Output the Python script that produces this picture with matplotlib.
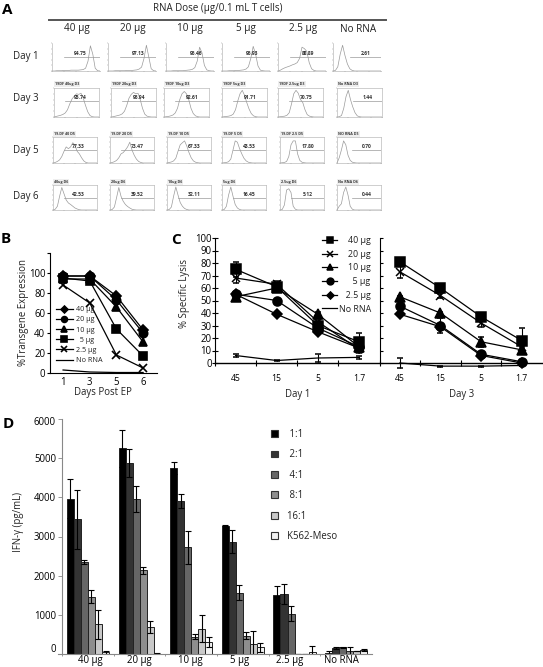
#!/usr/bin/env python3

import numpy as np
import matplotlib
matplotlib.use("Agg")
import matplotlib.pyplot as plt
from matplotlib.patches import Patch
from matplotlib.transforms import ScaledTranslation

plt.rcParams['font.family'] = ['Open Sans', 'DejaVu Sans']
plt.rcParams['text.color'] = '#222222'

W, H = 543, 667
FS = 6.9

doses = ['40 µg', '20 µg', '10 µg', '5 µg', '2.5 µg', 'No RNA']
days_a = ['Day 1', 'Day 3', 'Day 5', 'Day 6']

##### panel A, histograms (height at every 5% of the axis width)
hist_d1 = [
    [0,0,1,1,1,2,2,2,3,3,3,3,4,5,10,35,90,60,10,1,0],
    [0,0,0,1,1,1,1,1,2,2,2,3,4,7,14,45,92,50,8,1,0],
    [0,0,0,1,1,1,1,1,2,3,4,6,12,35,85,65,20,4,1,0,0],
    [0,0,0,1,1,1,2,2,3,4,7,15,45,88,60,18,3,1,0,0,0],
    [0,3,8,12,15,18,22,25,30,45,85,80,70,30,8,2,0,0,0,0,0],
    [0,2,15,60,92,55,25,8,2,0,0,0,0,0,0,0,0,0,0,0,0],
]
hist_d3 = [
    [0,2,4,6,9,14,25,45,62,72,80,78,82,65,40,18,5,1,0,0,0],
    [0,1,3,5,7,11,20,40,65,78,85,80,82,60,30,10,3,1,0,0,0],
    [0,1,2,4,7,14,30,60,80,88,80,60,30,12,4,1,0,0,0,0,0],
    [0,1,2,3,5,10,25,55,80,92,75,50,28,12,4,1,0,0,0,0,0],
    [0,1,2,3,6,15,45,80,92,82,60,50,25,8,3,1,0,0,0,0,0],
    [0,1,5,30,70,92,60,35,15,4,1,0,0,0,0,0,0,0,0,0,0],
]
hist_d5 = [
    [0,2,6,12,25,45,62,55,62,78,68,45,35,20,8,2,0,0,0,0,0],
    [0,2,5,10,20,35,40,50,62,80,50,30,15,6,2,0,0,0,0,0,0],
    [0,2,4,8,18,45,70,78,85,65,40,20,8,3,1,0,0,0,0,0,0],
    [0,1,2,5,15,50,85,80,55,35,18,8,3,1,0,0,0,0,0,0,0],
    [0,1,2,6,25,70,85,85,35,10,3,1,0,0,0,0,0,0,0,0,0],
    [0,20,50,85,70,30,10,3,1,0,0,0,0,0,0,0,0,0,0,0,0],
]
hist_d6 = [
    [0,3,15,55,90,65,40,28,22,15,8,4,1,0,0,0,0,0,0,0,0],
    [0,2,12,50,90,55,35,22,14,8,3,1,0,0,0,0,0,0,0,0,0],
    [0,2,12,55,92,60,30,15,6,2,0,0,0,0,0,0,0,0,0,0,0],
    [0,2,15,60,92,55,22,8,2,0,0,0,0,0,0,0,0,0,0,0,0],
    [0,2,20,80,85,70,15,3,0,0,0,0,0,0,0,0,0,0,0,0,0],
    [0,15,25,70,92,60,15,3,0,0,0,0,0,0,0,0,0,0,0,0,0],
]
gate_d1 = ['94.75', '97.13', '96.46', '96.93', '88.89', '2.61']
gate_d3 = ['95.74', '96.94', '92.61', '91.71', '70.75', '1.44']
gate_d5 = ['77.33', '73.47', '67.33', '43.53', '17.80', '0.70']
gate_d6 = ['42.53', '39.52', '32.11', '16.45', '5.12', '0.44']
title_d3 = ['19DF 40ug D3', '19DF 20ug D3', '19DF 10ug D3', '19DF 5ug D3', '19DF 2.5ug D3', 'No RNA D3']
title_d5 = ['19.DF 40 D5', '19.DF 20 D5', '19.DF 10 D5', '19.DF 5 D5', '19.DF 2.5 D5', 'NO RNA D5']
title_d6 = ['40ug D6', '20ug D6', '10ug D6', '5ug D6', '2.5ug D6', 'No RNA D6']

##### panel B
days_b = ['1', '3', '5', '6']
b_40 = [97, 97, 77, 43]
b_20 = [97, 97, 73, 40]
b_10 = [94, 94, 66, 31]
b_5 = [95, 92, 44, 17]
b_25 = [88, 70, 18, 5]
b_none = [3, 1, 0.5, 0.5]

##### panel C
ratios_c = ['45', '15', '5', '1.7']
c1_40 = [75, 61, 30, 17]
c1_20 = [68, 63, 33, 11]
c1_10 = [53, 60, 39, 13]
c1_5 = [55, 50, 28, 13]
c1_25 = [55, 39, 25, 12]
c1_none = [6, 2, 4, 4.5]
c1_40_err = [6, 2, 2, 7]
c1_20_err = [4, 3, 2, 3]
c1_10_err = [1, 2, 2, 2]
c1_5_err = [2, 1, 2, 2]
c1_25_err = [1, 1, 1, 1]
c1_none_err = [1.5, 0.5, 3, 1]
c3_40 = [81, 60, 37, 18]
c3_20 = [73, 54, 32, 13]
c3_10 = [53, 40, 17, 10.5]
c3_5 = [45.5, 30, 7, 1]
c3_25 = [39, 29, 6, 0]
c3_none = [0, -2.5, -2.5, -2]
c3_40_err = [2, 2, 2, 10]
c3_20_err = [5, 2, 3, 2]
c3_10_err = [1, 1, 4, 2]
c3_5_err = [1, 6, 2, 1]
c3_25_err = [1, 2, 1, 1]
c3_none_err = [4, 0.5, 0.5, 0.5]

##### panel D
ratio_labels = ['   1:1', '   2:1', '   4:1', '   8:1', '  16:1', '  K562-Meso']
d_groups = doses
d_label_pos = [0.04, 1.0, 1.99, 2.94, 3.91, 4.91]
d_11 = [3960, 5250, 4750, 3280, 1510, 20]
d_21 = [3440, 4880, 3910, 2870, 1540, 150]
d_41 = [2340, 3960, 2720, 1570, 1030, 170]
d_81 = [1460, 2140, 440, 470, 0, 85]
d_161 = [760, 690, 650, 255, 0, 70]
d_k562 = [40, 10, 310, 170, 60, 100]
d_11_err = [500, 470, 150, 10, 220, 50]
d_21_err = [750, 360, 170, 290, 260, 20]
d_41_err = [50, 330, 420, 180, 190, 20]
d_81_err = [170, 90, 60, 90, 0, 100]
d_161_err = [370, 160, 350, 325, 0, 0]
d_k562_err = [40, 10, 120, 110, 150, 15]
d_colors = ['#000000', '#333333', '#666666', '#8e8e8e', '#c9c9c9', '#f2f2f2']

fig = plt.figure(figsize=(W/100, H/100), dpi=100)


def ax_px(l, t, r, b):
    return fig.add_axes([l/W, 1-b/H, (r-l)/W, (b-t)/H])


def txt(x, y, s, **kw):
    kw.setdefault('fontsize', FS)
    kw.setdefault('ha', 'center')
    kw.setdefault('va', 'center')
    return fig.text(x/W, 1-y/H, s, **kw)


for letter, x, y in [('A', 7, 10), ('B', 6, 239), ('C', 176, 240), ('D', 8, 424)]:
    txt(x, y, letter, fontsize=11, fontweight='bold', color='black')

##### A
txt(218, 8, 'RNA Dose (µg/0.1 mL T cells)', fontsize=7)
fig.add_artist(plt.Line2D([49/W, 386/W], [1-20/H, 1-20/H], color='#555555', lw=1.4))
for x, d in zip([77, 133, 190, 246, 303, 358], doses):
    txt(x, 29, d, fontsize=7.2)
for y, d in zip([57, 99, 151, 197], days_a):
    txt(26, y, d, fontsize=7)

hist_x = np.arange(21)/20
rows = [
    (hist_d1, gate_d1, None, [52, 108, 166, 222, 278, 333], 48, 43, 71, 0.49, 0.63, False),
    (hist_d3, gate_d3, title_d3, [54, 111, 164, 222, 278, 337], 45, 88, 117, 0.55, 0.67, True),
    (hist_d5, gate_d5, title_d5, [53, 110, 167, 222, 280, 337], 44, 137, 163, 0.5, 0.62, True),
    (hist_d6, gate_d6, title_d6, [53, 110, 167, 222, 280, 337], 44, 185, 210, 0.47, 0.6, True),
]
for hists, gates, titles, lefts, wd, top, bot, gy, ty, box in rows:
    for i in range(6):
        ax = ax_px(lefts[i], top, lefts[i]+wd, bot)
        ax.plot(hist_x, np.array(hists[i])/100, color='#9a9a9a', lw=0.5)
        gx = 0.35 if i == 5 else 0.25
        ax.plot([gx, 1], [gy, gy], color='#9a9a9a', lw=0.5)
        ax.text((gx+1)/2 if i != 0 else 0.58, ty, gates[i], fontsize=3.6, fontweight='bold',
                ha='center', va='center', color='#333333')
        if titles:
            ax.text(0.02, 1.13, titles[i], fontsize=2.6, fontweight='bold', ha='left', va='center',
                    color='#333333', transform=ax.transAxes,
                    bbox=dict(fc='#eeeeee', ec='none', pad=0.8))
        ax.set_xlim(0, 1)
        ax.set_ylim(0, 1)
        ax.set_xticks(np.arange(5)/4)
        ax.set_yticks(np.arange(6)/5)
        ax.tick_params(length=1, width=0.3, color='#888888', labelbottom=False, labelleft=False, pad=0)
        for s in ax.spines.values():
            s.set_linewidth(0.4)
            s.set_color('#aaaaaa')
        ax.spines['top'].set_visible(box)
        ax.spines['right'].set_visible(box)

##### B
ax = ax_px(50, 253, 157, 373)
pos = np.arange(4)
b_series = [(b_40, 'D', '40 µg', 5), (b_20, 'o', '20 µg', 6), (b_10, '^', '10 µg', 6),
            (b_5, 's', '  5 µg', 5.5), (b_25, 'x', '2.5 µg', 5.5), (b_none, '', 'No RNA', 0)]
for vals, mk, lab, ms in b_series:
    ax.plot(pos, vals, color='black', lw=0.9, marker=mk, ms=ms, mew=1.2, label=lab, clip_on=False)
ax.set_xlim(-0.49, 3.52)
ax.set_ylim(0, 120)
ax.set_xticks(pos)
ax.set_xticklabels(days_b, fontsize=FS)
ax.set_yticks([0, 20, 40, 60, 80, 100, 120])
ax.set_yticklabels(['0', '20', '40', '60', '80', '100', ''], fontsize=FS)
ax.tick_params(axis='x', length=0, pad=3)
ax.tick_params(axis='y', length=2, width=0.8, pad=1.5)
ax.spines['top'].set_visible(False)
ax.spines['right'].set_visible(False)
ax.legend(loc='upper left', bbox_to_anchor=(56/W, 1-306/H), bbox_transform=fig.transFigure,
          frameon=False, fontsize=5.2, labelspacing=0.44, handlelength=2.3, handletextpad=0.4,
          borderpad=0, borderaxespad=0, markerscale=0.7)
txt(103, 393, 'Days Post EP', fontsize=FS)
txt(24, 312, '%Transgene Expression', fontsize=FS, rotation=90)

##### C
c1_series = [(c1_40, c1_40_err, 's', 6.5, '    40 µg'), (c1_20, c1_20_err, 'x', 5.5, '    20 µg'),
             (c1_10, c1_10_err, '^', 6.5, '    10 µg'), (c1_5, c1_5_err, 'o', 6.5, '      5 µg'),
             (c1_25, c1_25_err, 'D', 4.8, '   2.5 µg'), (c1_none, c1_none_err, '', 0, 'No RNA')]
c3_series = [(c3_40, c3_40_err, 's', 6.5), (c3_20, c3_20_err, 'x', 5.5), (c3_10, c3_10_err, '^', 6.5),
             (c3_5, c3_5_err, 'o', 6.5), (c3_25, c3_25_err, 'D', 4.8), (c3_none, c3_none_err, '', 0)]

ax1 = ax_px(215, 238, 379.5, 363)
ax2 = ax_px(379.5, 238, 542, 363)
handles = []
for vals, err, mk, ms, lab in c1_series:
    h = ax1.errorbar(pos, vals, yerr=err, color='black', lw=0.9, marker=mk, ms=ms, mew=1.1,
                     elinewidth=0.8, capsize=2, capthick=0.8, clip_on=False, label=lab)
    handles.append(h)
for vals, err, mk, ms in c3_series:
    ax2.errorbar(pos, vals, yerr=err, color='black', lw=0.9, marker=mk, ms=ms, mew=1.1,
                 elinewidth=0.8, capsize=2, capthick=0.8, clip_on=False)
for ax in (ax1, ax2):
    ax.patch.set_alpha(0)
    ax.set_xlim(-0.5, 3.5)
    ax.set_ylim(0, 100)
    ax.set_yticks(np.arange(0, 101, 10))
    ax.set_xticks(pos)
    ax.set_xticklabels(ratios_c, fontsize=6.2)
    ax.set_xticks(pos-0.5, minor=True)
    ax.tick_params(axis='x', which='major', length=0, pad=8)
    ax.tick_params(axis='x', which='minor', direction='inout', length=5, width=0.8)
    ax.spines['top'].set_visible(False)
    ax.spines['right'].set_visible(False)
    ax.spines['bottom'].set_linewidth(1.0)
ax1.tick_params(axis='y', direction='inout', length=5, width=0.8, pad=0, labelsize=FS)
ax2.tick_params(axis='y', direction='in', length=2.5, width=0.8, labelleft=False)
leg_h = [h.lines[0] for h in handles]
ax1.legend(leg_h, [h.get_label() for h in handles], loc='upper left',
           bbox_to_anchor=(322/W, 1-236/H), bbox_transform=fig.transFigure,
           frameon=False, fontsize=6.4, labelspacing=0.53, handlelength=1.7, handletextpad=0.2,
           borderpad=0, borderaxespad=0, markerscale=0.75)
txt(185, 293, '% Specific Lysis', fontsize=FS, rotation=90)
txt(298, 395, 'Day 1', fontsize=FS)
txt(462, 395, 'Day 3', fontsize=FS)

##### D
ax = ax_px(58, 419, 372, 654)
d_series = [d_11, d_21, d_41, d_81, d_161, d_k562]
d_errs = [d_11_err, d_21_err, d_41_err, d_81_err, d_161_err, d_k562_err]
bw = 0.136
group_pos = np.arange(6)
bars = []
for j in range(6):
    b = ax.bar(group_pos+(j-2.5)*bw, d_series[j], bw, color=d_colors[j], edgecolor='#222222', lw=0.7,
               yerr=d_errs[j], error_kw=dict(ecolor='black', elinewidth=0.8, capsize=2.3, capthick=0.8))
    bars.append(b)
ax.set_xlim(-0.58, 5.5)
ax.set_ylim(0, 6000)
ax.set_xticks(d_label_pos)
ax.set_xticklabels(d_groups, fontsize=FS)
ax.set_xticks(group_pos-0.5, minor=True)
ax.tick_params(axis='x', which='major', length=0, pad=0.5)
ax.tick_params(axis='x', which='minor', length=1.5, width=0.6, color='#888888')
ax.set_yticks(np.arange(0, 6001, 1000))
ax.tick_params(axis='y', length=3, width=0.6, color='#888888', labelsize=FS, pad=1.5)
ax.spines['left'].set_position(('outward', -3))
ax.spines['left'].set_color('#888888')
ax.spines['bottom'].set_color('#888888')
ax.spines['top'].set_visible(False)
ax.spines['right'].set_visible(False)
# bottom and top labels sit a little off their ticks
ylabs = ax.get_yticklabels()
ylabs[0].set_transform(ylabs[0].get_transform()+ScaledTranslation(0, 6/100, fig.dpi_scale_trans))
ylabs[6].set_transform(ylabs[6].get_transform()+ScaledTranslation(0, -2/100, fig.dpi_scale_trans))
ax.legend([Patch(fc=c, ec='#333333', lw=0.8) for c in d_colors], ratio_labels, loc='upper left',
          bbox_to_anchor=(271/W, 1-429/H), bbox_transform=fig.transFigure, frameon=False,
          fontsize=FS, labelspacing=0.98, handlelength=0.7, handleheight=0.7, handletextpad=0.5,
          borderpad=0, borderaxespad=0)
txt(19, 522, 'IFN-γ (pg/mL)', fontsize=FS, rotation=90)

fig.savefig('out.png', dpi=100)
